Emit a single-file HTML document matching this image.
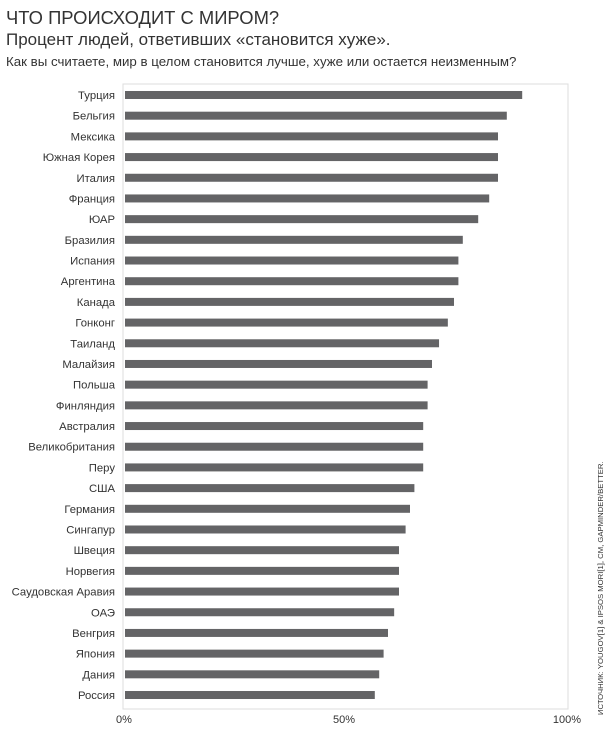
<!DOCTYPE html>
<html><head><meta charset="utf-8"><style>
body{margin:0;background:#fff;width:608px;height:729px;overflow:hidden;font-family:"Liberation Sans",sans-serif;color:#333}
</style></head><body>
<svg width="608" height="729" id="c">
<text x="6" y="24" font-size="18.4" fill="#333">ЧТО ПРОИСХОДИТ С МИРОМ?</text>
<text x="6" y="45" font-size="17" fill="#333">Процент людей, ответивших «становится хуже».</text>
<text x="6" y="66" font-size="13.3" fill="#333">Как вы считаете, мир в целом становится лучше, хуже или остается неизменным?</text>
<rect x="123" y="84" width="445" height="625" fill="none" stroke="#ddd"/>
<g id="bars"></g>
<text transform="translate(603,715) rotate(-90)" font-size="7.7" fill="#333">ИСТОЧНИК: YOUGOV[1] &amp; IPSOS MORI[1], CM, GAPMINDER/BETTER.</text>
</svg>
<script>
const categories=["Турция","Бельгия","Мексика","Южная Корея","Италия","Франция","ЮАР","Бразилия","Испания","Аргентина","Канада","Гонконг","Таиланд","Малайзия","Польша","Финляндия","Австралия","Великобритания","Перу","США","Германия","Сингапур","Швеция","Норвегия","Саудовская Аравия","ОАЭ","Венгрия","Япония","Дания","Россия"];
const values=[90.5,87,85,85,85,83,80.5,77,76,76,75,73.6,71.6,70,69,69,68,68,68,66,65,64,62.5,62.5,62.5,61.4,60,59,58,57];
const tickValues=[0,50,100];
const tickLabels=["0%","50%","100%"];
const NS="http://www.w3.org/2000/svg";
const x=v=>124+v*4.4;
const y=i=>95+i*20.69;
const g=document.getElementById('bars');
function mk(t,a){const e=document.createElementNS(NS,t);for(const k in a)e.setAttribute(k,a[k]);g.appendChild(e);return e;}
categories.forEach((c,i)=>{
 const l=mk('text',{x:115,y:y(i)+4,'font-size':11.3,'text-anchor':'end',fill:'#333'});
 l.textContent=c;
 
 
 const b=mk('rect',{x:x(0)+1,y:y(i)-4,width:x(values[i])-x(0)-1,height:8,fill:'#646466'});
 
 
});
tickValues.forEach((v,i)=>{
 const t=mk('text',{x:x(v)-(i==2?-3:0),y:723,'font-size':11,'text-anchor':'middle',fill:'#333'});
 t.textContent=tickLabels[i];
 
 
});
</script>
</body></html>
